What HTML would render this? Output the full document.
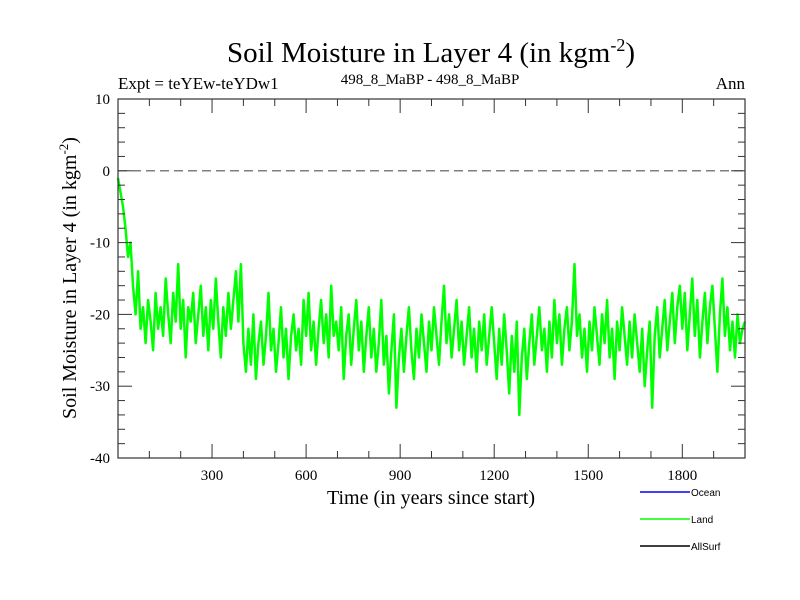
<!DOCTYPE html>
<html><head><meta charset="utf-8"><style>
body{margin:0;background:#fff}
svg{display:block;font-family:"Liberation Serif",serif}
</style></head><body>
<svg id="chart" width="800" height="600" viewBox="0 0 800 600">
<rect width="800" height="600" fill="#fff"/>
<text x="431" y="62" font-size="29" text-anchor="middle">Soil Moisture in Layer 4 (in kgm<tspan dy="-11" font-size="18">-2</tspan><tspan dy="11">)</tspan></text>
<text x="118" y="89" font-size="17">Expt = teYEw-teYDw1</text>
<text x="430" y="84" font-size="15" text-anchor="middle">498_8_MaBP - 498_8_MaBP</text>
<text x="745" y="89" font-size="17" text-anchor="end">Ann</text>
<text transform="translate(76,278) rotate(-90)" font-size="20" text-anchor="middle">Soil Moisture in Layer 4 (in kgm<tspan dy="-8" font-size="13">-2</tspan><tspan dy="8">)</tspan></text>
<text x="431" y="504" font-size="20" text-anchor="middle">Time (in years since start)</text>
<g id="plot"></g>
<g font-family="'Liberation Sans',sans-serif" font-size="10">
<line x1="640" y1="492" x2="690" y2="492" stroke="#0000ff" stroke-width="1.5"/>
<text x="691" y="496">Ocean</text>
<line x1="640" y1="519" x2="690" y2="519" stroke="#00ff00" stroke-width="1.5"/>
<text x="691" y="523">Land</text>
<line x1="640" y1="546" x2="690" y2="546" stroke="#000" stroke-width="1.5"/>
<text x="691" y="550">AllSurf</text>
</g>
</svg>
<script>
const yearStep = 8;
const landValues = [
-1,-3,-5,-8,-12,-10,-16,-20,-14,-22,-19,-24,-18,-21,-25,-17,-22,-19,-23,-15,-20,-24,-17,-21,-13,
-22,-18,-26,-19,-21,-17,-24,-20,-16,-23,-19,-25,-18,-22,-15,-21,-26,-19,-23,-17,-22,-18,-14,-21,-13,
-24,-28,-22,-27,-20,-29,-24,-21,-27,-23,-17,-25,-22,-28,-24,-19,-26,-22,-29,-23,-20,-25,-22,-27,-18,
-23,-17,-25,-21,-27,-22,-18,-24,-20,-26,-16,-23,-21,-25,-19,-29,-23,-20,-27,-22,-18,-25,-21,-28,-23,
-19,-26,-22,-28,-24,-18,-27,-23,-31,-25,-20,-33,-26,-22,-28,-23,-19,-25,-29,-22,-26,-20,-24,-28,-21,
-25,-19,-23,-27,-21,-16,-24,-20,-26,-22,-18,-25,-21,-27,-23,-19,-26,-22,-28,-21,-25,-20,-27,-23,-19,
-24,-29,-22,-27,-20,-25,-31,-23,-28,-21,-34,-26,-22,-29,-24,-20,-27,-23,-19,-25,-22,-28,-21,-26,-18,
-24,-20,-27,-22,-19,-25,-21,-13,-23,-20,-26,-22,-28,-21,-25,-19,-23,-27,-20,-24,-18,-26,-22,-29,-21,
-25,-19,-23,-27,-21,-26,-20,-24,-28,-22,-30,-25,-21,-33,-23,-19,-26,-22,-18,-25,-21,-17,-24,-19,-16,
-22,-17,-25,-20,-15,-23,-18,-26,-21,-17,-24,-19,-16,-22,-28,-20,-15,-23,-19,-25,-21,-26,-20,-24,-22,
-21];
const xTickLabels = [300,600,900,1200,1500,1800];
const yTickLabels = [10,0,-10,-20,-30,-40];
const xMin=0,xMax=2000,yMin=-40,yMax=10;
const L=118,R=745,T=99,B=458;
const sx=v=>L+(v-xMin)/(xMax-xMin)*(R-L);
const sy=v=>B-(v-yMin)/(yMax-yMin)*(B-T);
const NS="http://www.w3.org/2000/svg";
const g=document.getElementById('plot');
function mk(tag,attrs){const e=document.createElementNS(NS,tag);for(const k in attrs)e.setAttribute(k,attrs[k]);g.appendChild(e);return e;}
const z=mk('line',{x1:L,x2:R,y1:sy(0),y2:sy(0),stroke:'#555','stroke-width':1.2,'stroke-dasharray':'9,5'});


const pts=landValues.map((v,i)=>sx(i*yearStep).toFixed(1)+','+sy(v).toFixed(1)).join(' ');
const pl=mk('polyline',{points:pts,fill:'none',stroke:'#00ff00','stroke-width':2.5,'stroke-linejoin':'round'});


const fr=mk('rect',{x:L,y:T,width:R-L,height:B-T,fill:'none',stroke:'#333','stroke-width':1.2});


for(let v=yMin;v<=yMax;v+=2){
  const major=v%10===0;const len=major?14:7;const y=sy(v);
  const t1=mk('line',{x1:L,x2:L+len,y1:y,y2:y,stroke:'#333','stroke-width':1});
  
  
  const t2=mk('line',{x1:R-len,x2:R,y1:y,y2:y,stroke:'#333','stroke-width':1});
  
  
}
yTickLabels.forEach(v=>{
  const t=mk('text',{x:L-8,y:sy(v)+5,'font-size':15,'text-anchor':'end'});
  t.textContent=v;
  
  
});
for(let v=100;v<xMax;v+=100){
  const major=v%300===0;const len=major?14:7;const x=sx(v);
  const t1=mk('line',{x1:x,x2:x,y1:B,y2:B-len,stroke:'#333','stroke-width':1});
  
  
  const t2=mk('line',{x1:x,x2:x,y1:T,y2:T+len,stroke:'#333','stroke-width':1});
  
  
}
xTickLabels.forEach(v=>{
  const t=mk('text',{x:sx(v),y:B+22,'font-size':15,'text-anchor':'middle'});
  t.textContent=v;
  
  
});
</script>
</body></html>
